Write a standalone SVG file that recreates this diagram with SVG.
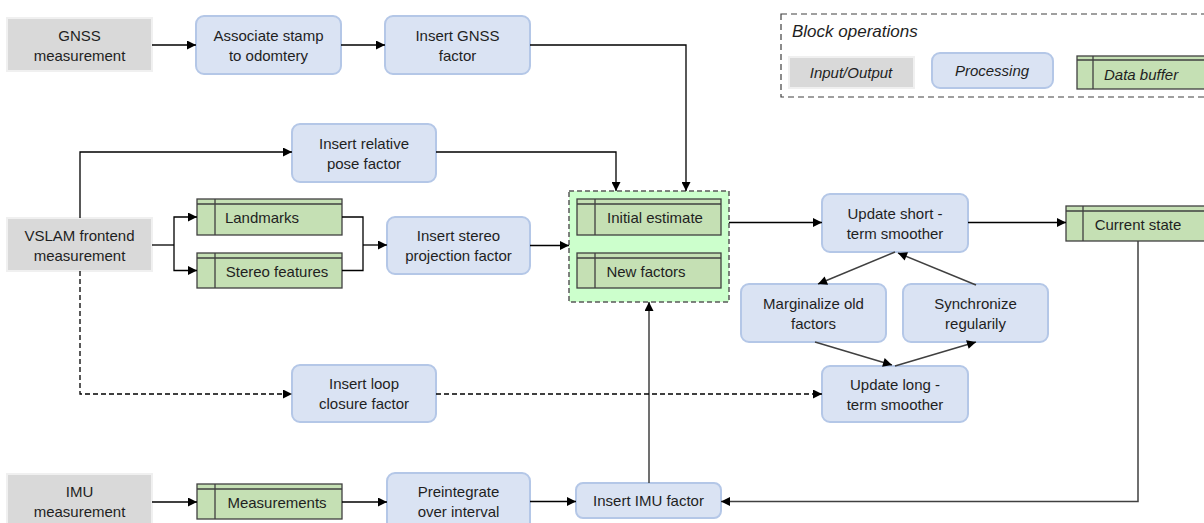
<svg xmlns="http://www.w3.org/2000/svg" width="1204" height="523" viewBox="0 0 1204 523">
<defs>
<style>
text{font-family:"Liberation Sans",Arial,sans-serif;font-size:15px;fill:#1f1f1f;text-anchor:middle}
.it{font-style:italic}
.io{fill:#d9d9d9;stroke:#f0f0f0;stroke-width:2}
.pr{fill:#dae3f3;stroke:#b4c7e7;stroke-width:2}
.db{fill:#c5e0b4;stroke:#404040;stroke-width:1.3}
.dbl{stroke:#404040;stroke-width:1.3;fill:none}
.c{fill:none;stroke:#000;stroke-width:1.3}
.g{fill:none;stroke:#404040;stroke-width:1.5}
.d{stroke-dasharray:5,3}
</style>
<marker id="a" viewBox="0 0 10 10" refX="10" refY="5" markerWidth="10" markerHeight="9" markerUnits="userSpaceOnUse" orient="auto"><path d="M0,0 L10,5 L0,10 z" fill="#000"/></marker>
</defs>
<rect width="1204" height="523" fill="#fff"/>

<g id="legend">
<rect x="781" y="14" width="440" height="83" fill="none" stroke="#404040" stroke-width="1.2" stroke-dasharray="6,4"/>
<text x="792" y="37" class="it" style="text-anchor:start;font-size:17px">Block operations</text>
<rect x="789" y="57" width="125" height="31" class="io"/>
<text x="851" y="78" class="it">Input/Output</text>
<rect x="932" y="53" width="121" height="35" rx="8" class="pr"/>
<text x="992" y="76" class="it">Processing</text>
<rect x="1077" y="56" width="140" height="33" class="db"/>
<path d="M1077,60 H1217 M1093,56 V89" class="dbl"/>
<text x="1104" y="80" class="it" style="text-anchor:start">Data buffer</text>
</g>

<g id="gnss_meas">
<rect x="7" y="18" width="145" height="53" class="io"/>
<text x="79.5" y="41">GNSS</text><text x="79.5" y="61">measurement</text>
</g>
<g id="associate">
<rect x="196" y="16" width="145" height="58" rx="8" class="pr"/>
<text x="268.5" y="41">Associate stamp</text><text x="268.5" y="61">to odomtery</text>
</g>
<g id="insert_gnss">
<rect x="385" y="16" width="145" height="58" rx="8" class="pr"/>
<text x="457.5" y="41">Insert GNSS</text><text x="457.5" y="61">factor</text>
</g>
<g id="insert_rel_pose">
<rect x="292" y="124" width="144" height="58" rx="8" class="pr"/>
<text x="364" y="149">Insert relative</text><text x="364" y="169">pose factor</text>
</g>
<g id="vslam">
<rect x="7" y="218" width="145" height="53" class="io"/>
<text x="79.5" y="241">VSLAM frontend</text><text x="79.5" y="261">measurement</text>
</g>
<g id="landmarks">
<rect x="197" y="199" width="145" height="36" class="db"/>
<path d="M197,204 H342 M215,199 V235" class="dbl"/>
<text x="262" y="223">Landmarks</text>
</g>
<g id="stereo_features">
<rect x="197" y="253" width="145" height="35" class="db"/>
<path d="M197,258 H342 M215,253 V288" class="dbl"/>
<text x="277" y="277">Stereo features</text>
</g>
<g id="insert_stereo">
<rect x="387" y="217" width="143" height="57" rx="8" class="pr"/>
<text x="458.5" y="241">Insert stereo</text><text x="458.5" y="261">projection factor</text>
</g>
<g id="buffers">
<rect x="569" y="191" width="160" height="111" fill="#ccffcc" stroke="#595959" stroke-width="1.5" stroke-dasharray="5,3"/>
<g id="initial_estimate">
<rect x="577" y="199" width="144" height="36" class="db"/>
<path d="M577,204 H721 M595,199 V235" class="dbl"/>
<text x="655" y="223">Initial estimate</text>
</g>
<g id="new_factors">
<rect x="577" y="253" width="144" height="35" class="db"/>
<path d="M577,258 H721 M595,253 V288" class="dbl"/>
<text x="646" y="277">New factors</text>
</g>
</g>
<g id="update_short">
<rect x="822" y="194" width="146" height="58" rx="8" class="pr"/>
<text x="895" y="219">Update short -</text><text x="895" y="239">term smoother</text>
</g>
<g id="current_state">
<rect x="1066" y="206" width="150" height="35" class="db"/>
<path d="M1066,211 H1216 M1083,206 V241" class="dbl"/>
<text x="1138" y="230">Current state</text>
</g>
<g id="marginalize">
<rect x="741" y="284" width="145" height="58" rx="8" class="pr"/>
<text x="813.5" y="309">Marginalize old</text><text x="813.5" y="329">factors</text>
</g>
<g id="synchronize">
<rect x="903" y="284" width="145" height="58" rx="8" class="pr"/>
<text x="975.5" y="309">Synchronize</text><text x="975.5" y="329">regularily</text>
</g>
<g id="update_long">
<rect x="822" y="366" width="146" height="56" rx="8" class="pr"/>
<text x="895" y="390">Update long -</text><text x="895" y="410">term smoother</text>
</g>
<g id="insert_loop">
<rect x="292" y="365" width="144" height="57" rx="8" class="pr"/>
<text x="364" y="389">Insert loop</text><text x="364" y="409">closure factor</text>
</g>
<g id="imu_meas">
<rect x="7" y="474" width="145" height="56" class="io"/>
<text x="79.5" y="497">IMU</text><text x="79.5" y="517">measurement</text>
</g>
<g id="measurements">
<rect x="197" y="484" width="145" height="35" class="db"/>
<path d="M197,489 H342 M215,484 V519" class="dbl"/>
<text x="277" y="508">Measurements</text>
</g>
<g id="preintegrate">
<rect x="387" y="473" width="143" height="58" rx="8" class="pr"/>
<text x="458.5" y="497">Preintegrate</text><text x="458.5" y="517">over interval</text>
</g>
<g id="insert_imu">
<rect x="576" y="483" width="145" height="35" rx="7" class="pr"/>
<text x="648.5" y="506">Insert IMU factor</text>
</g>

<g id="connectors">
<path d="M152,45 H196" class="c" marker-end="url(#a)"/>
<path d="M341,45 H385" class="c" marker-end="url(#a)"/>
<path d="M530,45 H686 V191" class="c" marker-end="url(#a)"/>
<path d="M80,218 V152 H292" class="c" marker-end="url(#a)"/>
<path d="M436,152 H616 V191" class="c" marker-end="url(#a)"/>
<path d="M152,245 H174" class="c"/>
<path d="M174,245 V217 H197" class="c" marker-end="url(#a)"/>
<path d="M174,245 V270.5 H197" class="c" marker-end="url(#a)"/>
<path d="M342,217 H363 V270.5 H342" class="c"/>
<path d="M363,245 H387" class="c" marker-end="url(#a)"/>
<path d="M530,245.5 H569" class="c" marker-end="url(#a)"/>
<path d="M729,222.5 H822" class="c" marker-end="url(#a)"/>
<path d="M968,222.5 H1066" class="c" marker-end="url(#a)"/>
<path d="M1138,241 V501.5 H721" class="g" marker-end="url(#a)"/>
<path d="M649,483 V302" class="g" marker-end="url(#a)"/>
<path d="M530,501.5 H576" class="c" marker-end="url(#a)"/>
<path d="M152,502 H197" class="c" marker-end="url(#a)"/>
<path d="M342,502 H387" class="c" marker-end="url(#a)"/>
<path d="M80,271 V394 H292" class="c d" marker-end="url(#a)"/>
<path d="M436,394 H822" class="c d" marker-end="url(#a)"/>
<path d="M895,252 L818,284" class="g" marker-end="url(#a)"/>
<path d="M976,285 L898,253" class="g" marker-end="url(#a)"/>
<path d="M815,342 L892,365" class="g" marker-end="url(#a)"/>
<path d="M895,366 L976,342" class="g" marker-end="url(#a)"/>
</g>
</svg>
